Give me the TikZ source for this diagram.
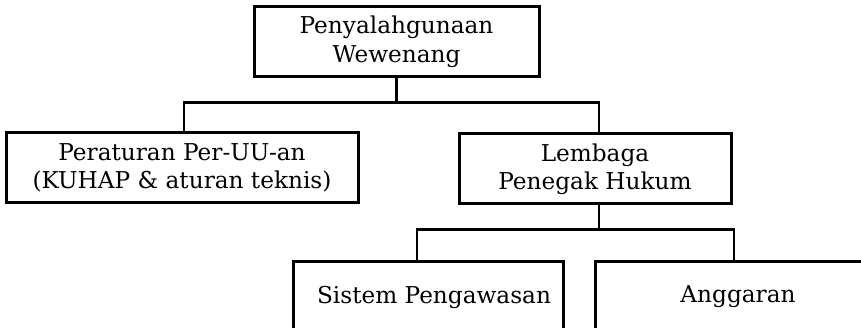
\documentclass[tikz,border=0pt]{standalone}
\usepackage{fontspec}
\setmainfont{DejaVu Serif}
\usetikzlibrary{positioning}
\tikzset{
    % node style
    every node/.style = {font=\fontsize{23.2}{28}\selectfont},
    % abstract base box style
    base/.style = {
        draw, rectangle, line width=3pt,
        minimum height=70pt, inner sep=0pt,
        text centered, align=center
    },
    % box styles (inherited from base style)
    rootBox/.style = {base, minimum width=285pt},
    wideBox/.style = {base, minimum width=352pt},
    midBox/.style = {base, minimum width=272pt},
    leafBox/.style = {base, minimum width=270pt},
    lastBox/.style = {base, minimum width=286pt},
    % connector style
    link/.style = {line width=2.6pt}
}

\begin{document}
\begin{tikzpicture}[x=1pt, y=1pt, node distance=126pt]
        \useasboundingbox (0,0) rectangle (861,-328);
        \clip (0,0) rectangle (861,-328);
        % place the boxes of the tree
        \node[rootBox] (abuse) at (396.5,-42) {Penyalahgunaan\\[1pt]Wewenang};
        \node[wideBox] (rules) [below of=abuse, xshift=-214.5pt] {Peraturan Per-UU-an\\(KUHAP \& aturan teknis)};
        \node[midBox] (agency) [below of=abuse, xshift=198.5pt, yshift=-1pt] {Lembaga\\Penegak Hukum};
        \node[leafBox] (control) [below of=agency, xshift=-167pt, yshift=-2pt] {\hspace{12pt}Sistem Pengawasan};
        \node[lastBox] (budget) [below of=agency, xshift=143pt, yshift=-2pt] {Anggaran};
        % draw the right angle connectors
        \draw[link] (abuse.south) -- ++(0,-24) coordinate (topBus);
        \draw[link] (topBus) -| ([xshift=2pt]rules.north);
        \draw[link] (topBus) -| ([xshift=4pt]agency.north);
        \draw[link] ([xshift=4pt]agency.south) -- ++(0,-24) coordinate (lowBus);
        \draw[link] (lowBus) -| ([xshift=-11pt]control.north);
        \draw[link] (lowBus) -| ([xshift=-4pt]budget.north);
    \end{tikzpicture}
\end{document}
